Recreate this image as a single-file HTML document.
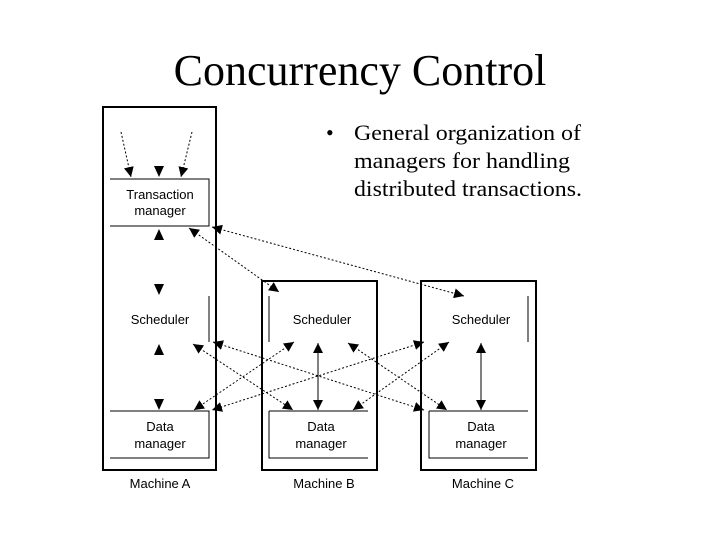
<!DOCTYPE html>
<html><head><meta charset="utf-8"><style>
html,body{margin:0;padding:0;background:#fff}
svg{display:block}
.s{font-family:"Liberation Sans",sans-serif;font-size:13px;fill:#000}
.t{font-family:"Liberation Serif",serif;fill:#000}
</style></head><body>
<svg width="720" height="540" viewBox="0 0 720 540" xmlns="http://www.w3.org/2000/svg">
<defs>
<marker id="a" viewBox="0 0 10 10" refX="10" refY="5" markerWidth="10" markerHeight="10" markerUnits="userSpaceOnUse" orient="auto-start-reverse">
<path d="M0,0 L10,5 L0,10 z" fill="#000"/></marker>
</defs>
<text class="t" x="360" y="85" font-size="44" text-anchor="middle">Concurrency Control</text>
<text class="t" x="326" y="140" font-size="22">•</text>
<text class="t" x="354" y="140" font-size="22" textLength="227" lengthAdjust="spacingAndGlyphs">General organization of</text>
<text class="t" x="354" y="168" font-size="22" textLength="216" lengthAdjust="spacingAndGlyphs">managers for handling</text>
<text class="t" x="354" y="196" font-size="22" textLength="228" lengthAdjust="spacingAndGlyphs">distributed transactions.</text>

<g fill="none" stroke="#000" stroke-width="2">
<rect x="103" y="107" width="113" height="363"/>
<rect x="262" y="281" width="115" height="189"/>
<rect x="421" y="281" width="115" height="189"/>
</g>
<g fill="none" stroke="#000" stroke-width="1">
<path d="M110,179 H209 V226 H110"/>
<path d="M209,296 V342"/>
<path d="M269,296 V342"/>
<path d="M528,296 V342"/>
<path d="M110,411 H209 V458 H110"/>
<path d="M269,411 H368 M269,411 V458 H368"/>
<path d="M429,411 H528 M429,411 V458 H528"/>
</g>
<text class="s" x="160" y="199" text-anchor="middle">Transaction</text>
<text class="s" x="160" y="215" text-anchor="middle">manager</text>
<text class="s" x="160" y="324" text-anchor="middle">Scheduler</text>
<text class="s" x="322" y="324" text-anchor="middle">Scheduler</text>
<text class="s" x="481" y="324" text-anchor="middle">Scheduler</text>
<text class="s" x="160" y="431" text-anchor="middle">Data</text>
<text class="s" x="160" y="448" text-anchor="middle">manager</text>
<text class="s" x="321" y="431" text-anchor="middle">Data</text>
<text class="s" x="321" y="448" text-anchor="middle">manager</text>
<text class="s" x="481" y="431" text-anchor="middle">Data</text>
<text class="s" x="481" y="448" text-anchor="middle">manager</text>
<text class="s" x="160" y="488" text-anchor="middle">Machine A</text>
<text class="s" x="324" y="488" text-anchor="middle">Machine B</text>
<text class="s" x="483" y="488" text-anchor="middle">Machine C</text>

<g stroke="#000" stroke-width="1" fill="none" stroke-dasharray="2,2">
<line x1="121" y1="132" x2="131" y2="177" marker-end="url(#a)"/>
<line x1="192" y1="132" x2="181" y2="177" marker-end="url(#a)"/>
<line x1="189" y1="228" x2="279" y2="292" marker-start="url(#a)" marker-end="url(#a)"/>
<line x1="212" y1="227" x2="464" y2="296" marker-start="url(#a)" marker-end="url(#a)"/>
<line x1="193" y1="344" x2="293" y2="410" marker-start="url(#a)" marker-end="url(#a)"/>
<line x1="213" y1="342" x2="424" y2="410" marker-start="url(#a)" marker-end="url(#a)"/>
<line x1="294" y1="342" x2="194" y2="410" marker-start="url(#a)" marker-end="url(#a)"/>
<line x1="348" y1="343" x2="447" y2="410" marker-start="url(#a)" marker-end="url(#a)"/>
<line x1="424" y1="342" x2="212" y2="410" marker-start="url(#a)" marker-end="url(#a)"/>
<line x1="449" y1="342" x2="353" y2="410" marker-start="url(#a)" marker-end="url(#a)"/>
</g>
<g stroke="#000" stroke-width="1" fill="none">
<line x1="318" y1="343" x2="318" y2="410" marker-start="url(#a)" marker-end="url(#a)"/>
<line x1="481" y1="343" x2="481" y2="410" marker-start="url(#a)" marker-end="url(#a)"/>
</g>
<g fill="#000">
<path d="M154,166 L164,166 L159,177 z"/>
<path d="M154,240 L164,240 L159,229 z"/>
<path d="M154,284 L164,284 L159,295 z"/>
<path d="M154,355 L164,355 L159,344 z"/>
<path d="M154,399 L164,399 L159,410 z"/>
</g>
</svg>
</body></html>
